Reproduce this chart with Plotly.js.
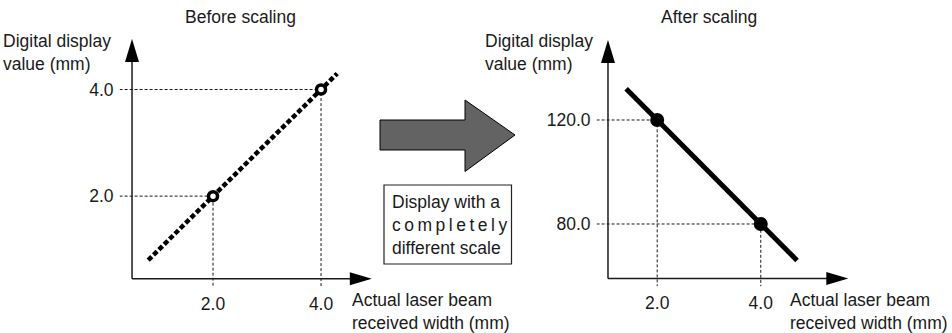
<!DOCTYPE html>
<html>
<head>
<meta charset="utf-8">
<script src="https://cdn.plot.ly/plotly-3.0.1.min.js"></script>
<style>
  html, body { margin: 0; padding: 0; background: #fff; }
  #chart { width: 952px; height: 333px; }
</style>
</head>
<body>
<div id="chart"></div>
<script>
// before scaling: raw reading follows the real width
var beforeLineX = [0.8, 4.3];
var beforeLineY = [0.8, 4.3];
var beforePtX = [2, 4];
var beforePtY = [2, 4];
var beforeTickVals = [2, 4];
var beforeTickText = ['2.0', '4.0'];

// after scaling: display runs the other way
var afterLineX = [1.4, 4.7];
var afterLineY = [132, 66];
var afterPtX = [2, 4];
var afterPtY = [120, 80];
var afterXTickVals = [2, 4];
var afterXTickText = ['2.0', '4.0'];
var afterYTickVals = [80, 120];
var afterYTickText = ['80.0', '120.0'];

var FONT = '"Liberation Sans", Arial, Helvetica, sans-serif';
var INK = '#1a1a1a';

// axis ranges (left edge / bottom edge reach past the drawn axes for the guides)
var r1x = [0.27, 4.94], r1y = [0.28, 4.95], o1 = [0.5, 0.45];
var r2x = [0.83, 5.69], r2y = [56, 150.8], o2 = [1.05, 59];

function guides(xs, ys, rx, ry, xa, ya) {
    return xs.map(function (x, i) {
        return {
            x: [rx[0], x, x],
            y: [ys[i], ys[i], ry[0]],
            xaxis: xa, yaxis: ya,
            mode: 'lines',
            line: {color: INK, width: 1, dash: '3px,2px'},
            hoverinfo: 'skip', showlegend: false
        };
    });
}

var data = [].concat(
    guides(beforePtX, beforePtY, r1x, r1y, 'x', 'y'),
    guides(afterPtX, afterPtY, r2x, r2y, 'x2', 'y2'),
    [{
        x: beforeLineX, y: beforeLineY, xaxis: 'x', yaxis: 'y',
        mode: 'lines', line: {color: '#000', width: 4.5, dash: '5px,2.5px'},
        showlegend: false
    }, {
        x: beforePtX, y: beforePtY, xaxis: 'x', yaxis: 'y',
        mode: 'markers',
        marker: {symbol: 'circle', size: 9, color: '#fff', line: {color: '#000', width: 3.5}},
        showlegend: false
    }, {
        x: afterLineX, y: afterLineY, xaxis: 'x2', yaxis: 'y2',
        mode: 'lines', line: {color: '#000', width: 5},
        showlegend: false
    }, {
        x: afterPtX, y: afterPtY, xaxis: 'x2', yaxis: 'y2',
        mode: 'markers',
        marker: {symbol: 'circle', size: 14, color: '#000'},
        showlegend: false
    }]
);

function axisArrows(xref, yref, rx, ry, o) {
    var ln = {color: INK, width: 1.5};
    return [
        {type: 'line', xref: xref, yref: yref, x0: o[0], y0: o[1], x1: o[0], y1: ry[1] - (ry[1] - ry[0]) * 0.02, line: ln},
        {type: 'line', xref: xref, yref: yref, x0: o[0], y0: o[1], x1: rx[1] - (rx[1] - rx[0]) * 0.02, y1: o[1], line: ln},
        {type: 'path', xref: xref, yref: yref, xsizemode: 'pixel', ysizemode: 'pixel',
         xanchor: o[0], yanchor: ry[1], path: 'M-7,-23 L7,-23 L0,0 Z',
         fillcolor: '#000', line: {width: 0}},
        {type: 'path', xref: xref, yref: yref, xsizemode: 'pixel', ysizemode: 'pixel',
         xanchor: rx[1], yanchor: o[1], path: 'M-22,6.5 L-22,-6.5 L0,0 Z',
         fillcolor: '#000', line: {width: 0}}
    ];
}

var shapes = [].concat(
    axisArrows('x', 'y', r1x, r1y, o1),
    axisArrows('x2', 'y2', r2x, r2y, o2),
    [{
        // big grey arrow between the panels (pixels from top-left)
        type: 'path', xref: 'paper', yref: 'paper', xsizemode: 'pixel', ysizemode: 'pixel',
        xanchor: 0, yanchor: 1,
        path: 'M380,-120 L465,-120 L465,-100 L515,-135 L465,-171.5 L465,-150 L380,-150 Z',
        fillcolor: '#636363', line: {color: '#000', width: 1}
    }, {
        type: 'rect', xref: 'paper', yref: 'paper', xsizemode: 'pixel', ysizemode: 'pixel',
        xanchor: 0, yanchor: 1, x0: 384, x1: 511.5, y0: -185, y1: -264,
        fillcolor: '#fff', line: {color: '#222', width: 1.2}
    }]
);

function txt(text, px, py, xanchor, extra) {
    var a = {
        text: text, xref: 'paper', yref: 'paper',
        x: px / 952, y: 1 - py / 333, xanchor: xanchor, yanchor: 'middle',
        showarrow: false, align: xanchor === 'center' ? 'center' : 'left',
        font: {family: FONT, size: 17.5, color: INK}
    };
    for (var k in extra) a[k] = extra[k];
    return a;
}

var annotations = [
    txt('Before scaling', 240, 17, 'center'),
    txt('After scaling', 709, 17, 'center'),
    txt('Digital display<br>value (mm)', 1, 53, 'left'),
    txt('Digital display<br>value (mm)', 483, 53, 'left'),
    txt('Actual laser beam<br>received width (mm)', 350, 311, 'left'),
    txt('Actual laser beam<br>received width (mm)', 788, 311, 'left'),
    txt('Display with a<br>c\u2009o\u2009m\u2009p\u2009l\u2009e\u2009t\u2009e\u2009l\u2009y<br>different scale', 390, 225, 'left')
];

function ax(range, domain, vals, text, anchor, standoff) {
    return {
        range: range, domain: domain, anchor: anchor,
        tickvals: vals, ticktext: text, ticks: '',
        ticklabelstandoff: standoff,
        showgrid: false, zeroline: false, showline: false,
        tickfont: {family: FONT, size: 17.5, color: INK},
        fixedrange: true
    };
}

var layout = {
    width: 952, height: 333,
    margin: {l: 0, r: 0, t: 0, b: 0},
    paper_bgcolor: '#fff', plot_bgcolor: 'rgba(0,0,0,0)',
    showlegend: false,
    xaxis: ax(r1x, [119.6 / 952, 371.8 / 952], beforeTickVals, beforeTickText, 'y', 4),
    yaxis: ax(r1y, [1 - 287.8 / 333, 1 - 38.9 / 333], beforeTickVals, beforeTickText, 'x', 5),
    xaxis2: ax(r2x, [596.6 / 952, 848.3 / 952], afterXTickVals, afterXTickText, 'y2', 4),
    yaxis2: ax(r2y, [1 - 286.4 / 333, 1 - 39.9 / 333], afterYTickVals, afterYTickText, 'x2', 5),
    shapes: shapes,
    annotations: annotations
};

Plotly.newPlot('chart', data, layout, {displayModeBar: false, staticPlot: true});
</script>
</body>
</html>
